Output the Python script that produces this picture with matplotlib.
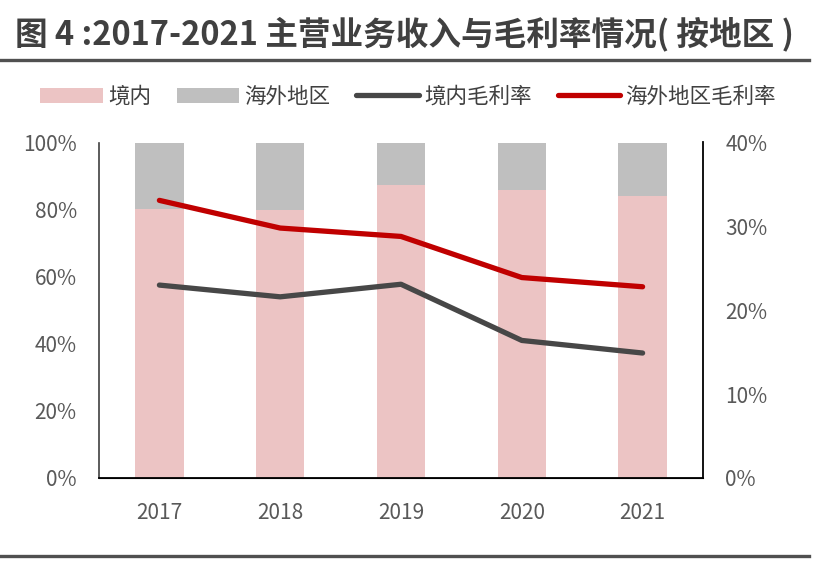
import numpy as np
import matplotlib
matplotlib.use("Agg")
import matplotlib.pyplot as plt
from matplotlib.lines import Line2D
from matplotlib.ticker import FuncFormatter

plt.rcParams['font.family'] = ['Noto Sans CJK SC', 'DejaVu Sans']

# data
years = ['2017', '2018', '2019', '2020', '2021']
domestic_share = [80.1, 79.9, 87.3, 85.8, 84.1]          # 境内 收入占比 %
overseas_share = [100 - v for v in domestic_share]       # 海外地区
domestic_margin = [23.0, 21.6, 23.1, 16.4, 14.9]         # 境内毛利率 %
overseas_margin = [33.1, 29.8, 28.8, 23.9, 22.8]         # 海外地区毛利率 %

pink = '#ECC4C4'
gray = '#BFBFBF'
dark = '#474747'
red = '#C00000'
txt = '#595959'

fig = plt.figure(figsize=(8.24, 5.66), dpi=100)
ax = fig.add_axes([99/824, 1-478/566, 604/824, 335.5/566])
ax2 = ax.twinx()

x = np.arange(len(years))
b1 = ax.bar(x, domestic_share, width=0.4, color=pink, label='境内', zorder=1)
b2 = ax.bar(x, overseas_share, width=0.4, bottom=domestic_share, color=gray,
            label='海外地区', zorder=1)
l1, = ax2.plot(x, domestic_margin, color=dark, lw=3.8, solid_capstyle='round',
               solid_joinstyle='round', label='境内毛利率')
l2, = ax2.plot(x, overseas_margin, color=red, lw=3.8, solid_capstyle='round',
               solid_joinstyle='round', label='海外地区毛利率')

ax.set_xlim(-0.5, 4.5)
ax.set_ylim(0, 100)
ax2.set_ylim(0, 40)
ax.set_yticks(range(0, 101, 20))
ax2.set_yticks(range(0, 41, 10))
pct = FuncFormatter(lambda v, p: f'{v:.0f}%')
ax.yaxis.set_major_formatter(pct)
ax2.yaxis.set_major_formatter(pct)
ax.set_xticks(x)
ax.set_xticklabels(years)

for a in (ax, ax2):
    a.tick_params(length=0, labelsize=15, labelcolor=txt)
    a.spines['top'].set_visible(False)
ax.tick_params(axis='y', pad=16)
ax2.tick_params(axis='y', pad=16)
ax.tick_params(axis='x', pad=17)
ax.spines['left'].set_color('#404040')
ax.spines['left'].set_linewidth(1.2)
ax2.spines['left'].set_visible(False)
ax2.spines['right'].set_color('#000000')
ax2.spines['right'].set_linewidth(1.3)
ax.spines['bottom'].set_color('#000000')
ax.spines['bottom'].set_linewidth(1.3)
ax.spines['right'].set_visible(False)

# title
fig.text(15/824, 1-34/566, '图 4 :2017-2021 主营业务收入与毛利率情况( 按地区 )',
         fontsize=23.5, fontweight='bold', color='#404040', va='center', ha='left')
fig.add_artist(Line2D([0, 809/824], [1-60/566, 1-60/566], color='#505050', lw=2.4))
fig.add_artist(Line2D([0, 809/824], [1-556/566, 1-556/566], color='#505050', lw=2.4))

leg = fig.legend(handles=[b1, b2, l1, l2], loc='center', ncol=4,
                 bbox_to_anchor=(408/824, 1-97/566), frameon=False,
                 fontsize=15.5, handlelength=2.9, handleheight=0.7,
                 handletextpad=0.25, columnspacing=1.2)
for t in leg.get_texts():
    t.set_color('#404040')

fig.savefig('out.png', dpi=100)
